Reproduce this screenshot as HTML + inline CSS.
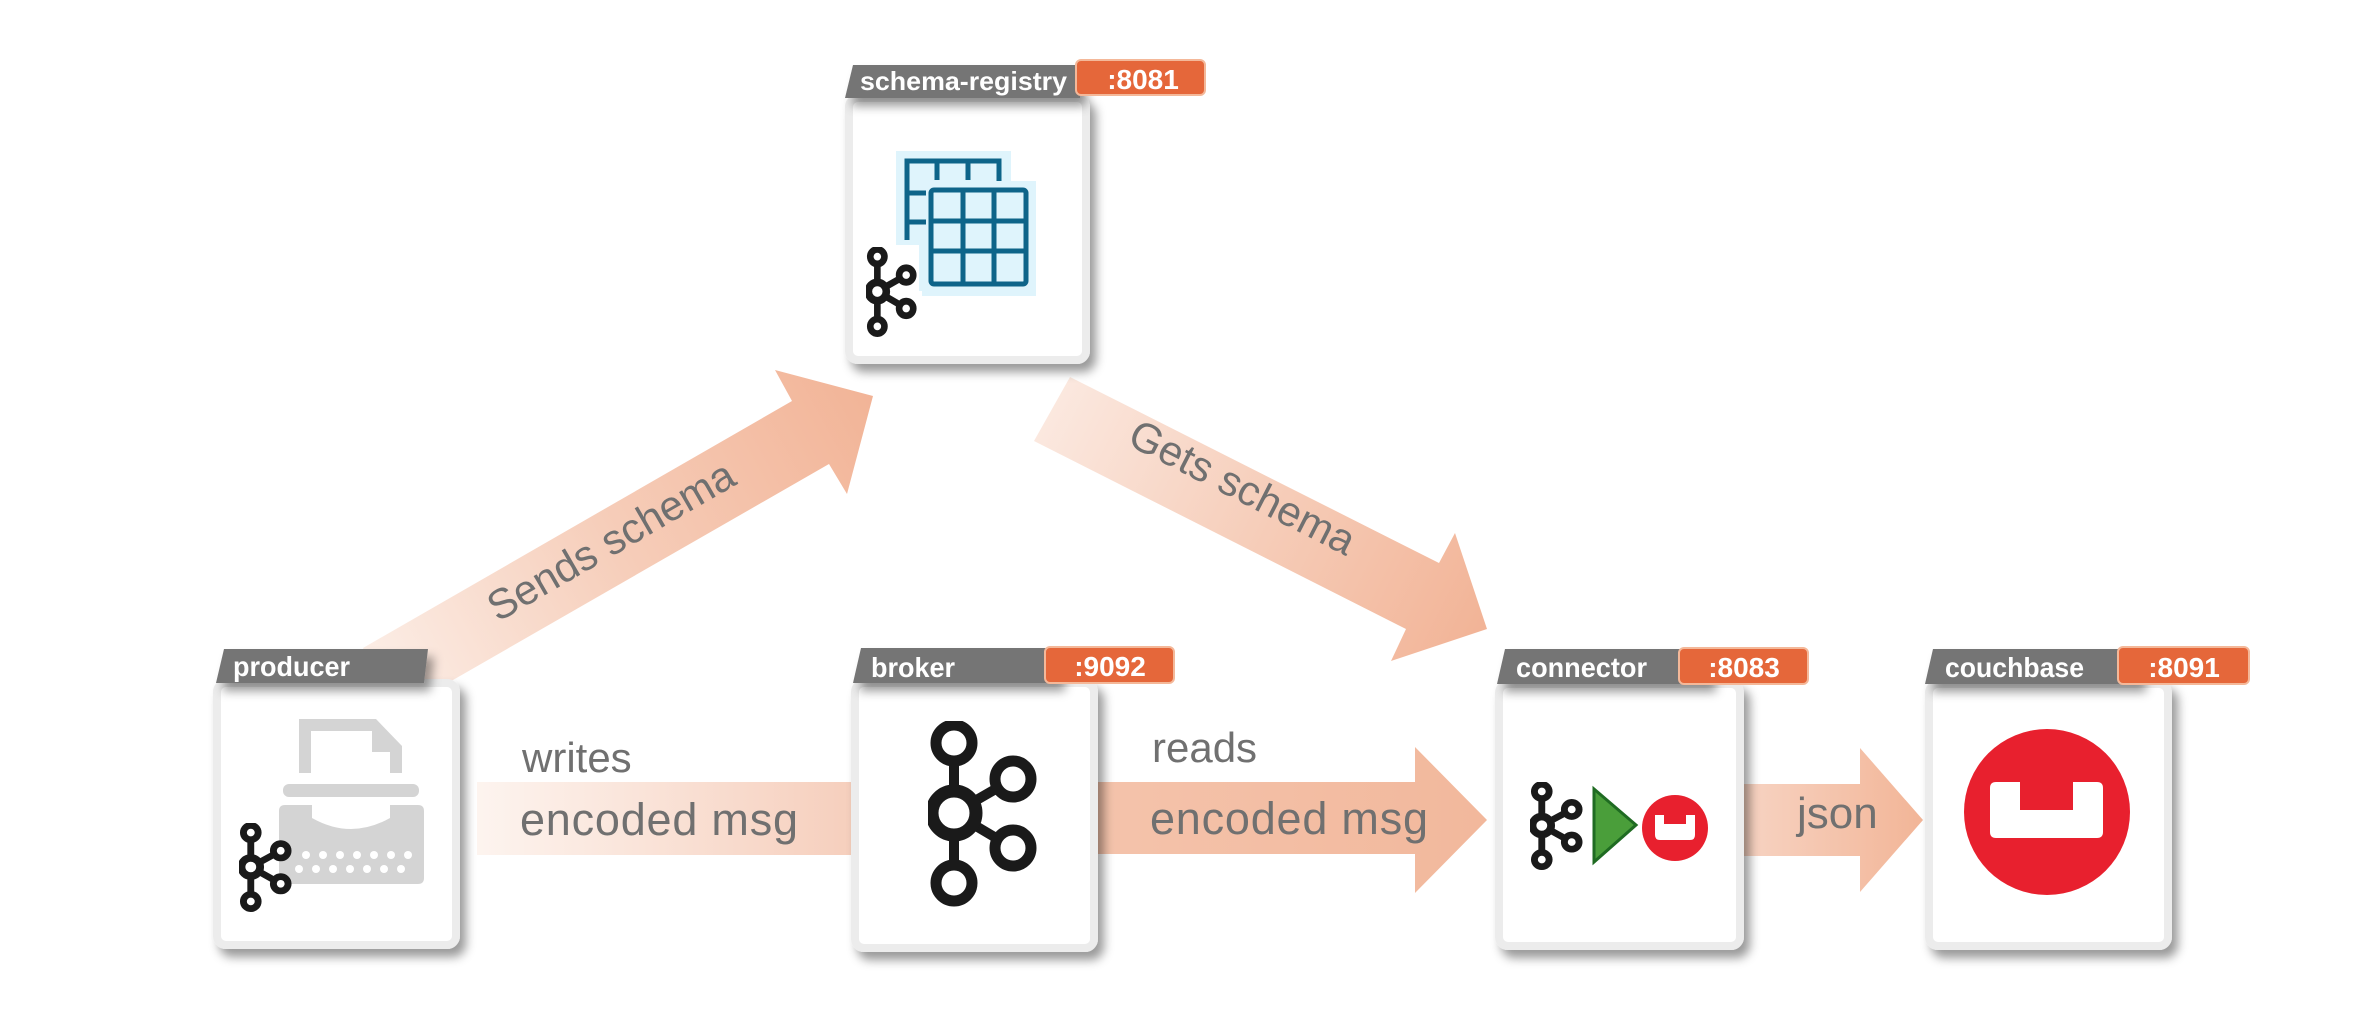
<!DOCTYPE html>
<html><head><meta charset="utf-8"><style>
html,body{margin:0;padding:0;background:#fff;}
svg{display:block;}
.hd{font-family:"Liberation Sans",sans-serif;font-weight:bold;fill:#fff;}
.lb{font-family:"Liberation Sans",sans-serif;fill:#707070;}
</style></head><body>
<svg width="2378" height="1034" viewBox="0 0 2378 1034" xmlns="http://www.w3.org/2000/svg">
<defs>
<filter id="sh" x="-20%" y="-20%" width="140%" height="140%">
<feDropShadow dx="6" dy="8" stdDeviation="5" flood-color="#000" flood-opacity="0.4"/>
</filter>
<linearGradient id="gS" x1="363" y1="680" x2="873" y2="400" gradientUnits="userSpaceOnUse">
<stop offset="0" stop-color="#fcefe8"/><stop offset="0.5" stop-color="#f6cdb9"/><stop offset="1" stop-color="#f2b497"/></linearGradient>
<linearGradient id="gG" x1="1050" y1="410" x2="1480" y2="630" gradientUnits="userSpaceOnUse">
<stop offset="0" stop-color="#fbe8df"/><stop offset="0.5" stop-color="#f6cdb9"/><stop offset="1" stop-color="#f2b497"/></linearGradient>
<linearGradient id="gW" x1="477" y1="0" x2="851" y2="0" gradientUnits="userSpaceOnUse">
<stop offset="0" stop-color="#fdf4ef"/><stop offset="1" stop-color="#f6cfbd"/></linearGradient>
<linearGradient id="gR" x1="1098" y1="0" x2="1487" y2="0" gradientUnits="userSpaceOnUse">
<stop offset="0" stop-color="#f4c3ab"/><stop offset="1" stop-color="#f2b89c"/></linearGradient>
<linearGradient id="gJ" x1="1744" y1="0" x2="1923" y2="0" gradientUnits="userSpaceOnUse">
<stop offset="0" stop-color="#f7d3c2"/><stop offset="1" stop-color="#f2b597"/></linearGradient>
<symbol id="kf" viewBox="0 0 110 186" preserveAspectRatio="none">
<g fill="none" stroke="#1a1a1a" stroke-width="10">
<line x1="26" y1="22" x2="26" y2="162"/>
<line x1="26" y1="92" x2="85" y2="58"/>
<line x1="26" y1="92" x2="85" y2="127"/>
</g>
<g fill="#fff" stroke="#1a1a1a">
<circle cx="26" cy="22" r="18" stroke-width="11"/>
<circle cx="26" cy="162" r="18" stroke-width="11"/>
<circle cx="85" cy="58" r="18" stroke-width="11"/>
<circle cx="85" cy="127" r="18" stroke-width="11"/>
<circle cx="26" cy="92" r="22" stroke-width="13"/>
</g>
</symbol>
<symbol id="kfs" viewBox="0 0 110 186" preserveAspectRatio="none">
<g fill="none" stroke="#1a1a1a" stroke-width="14">
<line x1="24" y1="22" x2="24" y2="162"/>
<line x1="24" y1="92" x2="85" y2="58"/>
<line x1="24" y1="92" x2="85" y2="127"/>
</g>
<g fill="#fff" stroke="#1a1a1a" stroke-width="14">
<circle cx="24" cy="20" r="15"/>
<circle cx="24" cy="164" r="15"/>
<circle cx="85" cy="58" r="15"/>
<circle cx="85" cy="127" r="15"/>
<circle cx="24" cy="92" r="19" stroke-width="16"/>
</g>
</symbol>
</defs>

<polygon points="363,648 792,401 775,370 873,396 847,494 829,464 399,711" fill="url(#gS)"/>
<polygon points="1070,377 1439,563 1455,533 1487,629 1391,661 1406,629 1034,441" fill="url(#gG)"/>
<rect x="477" y="782" width="380" height="73" fill="url(#gW)"/>
<polygon points="1090,782 1415,782 1415,747 1487,820 1415,893 1415,854 1090,854" fill="url(#gR)"/>
<polygon points="1740,784 1860,784 1860,748 1923,820 1860,892 1860,856 1740,856" fill="url(#gJ)"/>

<text class="lb" font-size="42" transform="translate(618,553) rotate(-30)" text-anchor="middle">Sends schema</text>
<text class="lb" font-size="42" transform="translate(1236,500) rotate(27)" text-anchor="middle">Gets schema</text>
<text class="lb" font-size="42" x="522" y="772">writes</text>
<text class="lb" font-size="45" x="520" y="835" textLength="278">encoded msg</text>
<text class="lb" font-size="42" x="1152" y="762">reads</text>
<text class="lb" font-size="45" x="1150" y="834" textLength="278">encoded msg</text>
<text class="lb" font-size="44" x="1797" y="828">json</text>

<g filter="url(#sh)">
<rect x="849" y="98" width="237" height="262" rx="9" fill="#fff" stroke="#ececec" stroke-width="8"/>
<rect x="217" y="683" width="239" height="262" rx="9" fill="#fff" stroke="#ececec" stroke-width="8"/>
<rect x="855" y="683" width="239" height="265" rx="9" fill="#fff" stroke="#ececec" stroke-width="8"/>
<rect x="1499" y="684" width="241" height="262" rx="9" fill="#fff" stroke="#ececec" stroke-width="8"/>
<rect x="1929" y="684" width="239" height="262" rx="9" fill="#fff" stroke="#ececec" stroke-width="8"/>
</g>
<g filter="url(#sh)" fill="#757575">
<polygon points="853,65 1080,65 1080,98 845,98"/>
<polygon points="224,649 428,649 424,683 216,683"/>
<polygon points="861,648 1059,648 1059,683 853,683"/>
<polygon points="1505,649 1710,649 1710,684 1497,684"/>
<polygon points="1933,649 2140,649 2140,684 1925,684"/>
</g>
<text class="hd" font-size="26" x="860" y="90" textLength="207" lengthAdjust="spacingAndGlyphs">schema-registry</text>
<text class="hd" font-size="28" x="233" y="676" textLength="117" lengthAdjust="spacingAndGlyphs">producer</text>
<text class="hd" font-size="28" x="871" y="677" textLength="84" lengthAdjust="spacingAndGlyphs">broker</text>
<text class="hd" font-size="28" x="1516" y="677" textLength="131" lengthAdjust="spacingAndGlyphs">connector</text>
<text class="hd" font-size="28" x="1945" y="677" textLength="139" lengthAdjust="spacingAndGlyphs">couchbase</text>
<g fill="#e5673a" stroke="#f4b899" stroke-width="2">
<rect x="1076" y="60" width="129" height="35" rx="5"/>
<rect x="1045" y="647" width="129" height="36" rx="5"/>
<rect x="1679" y="648" width="129" height="36" rx="5"/>
<rect x="2118" y="647" width="131" height="37" rx="5"/>
</g>
<g class="hd" font-size="28" text-anchor="middle">
<text x="1143" y="89">:8081</text>
<text x="1110" y="676">:9092</text>
<text x="1744" y="677">:8083</text>
<text x="2184" y="677">:8091</text>
</g>

<rect x="896" y="151" width="115" height="140" fill="#dff4fc"/>
<rect x="922" y="181" width="114" height="115" fill="#dff4fc"/>
<g fill="none" stroke="#0e6489" stroke-width="5">
<path d="M907,240 V161 H999 V181"/>
<line x1="937" y1="161" x2="937" y2="180"/>
<line x1="968" y1="161" x2="968" y2="180"/>
<line x1="907" y1="193" x2="926" y2="193"/>
<line x1="907" y1="222" x2="926" y2="222"/>
<rect x="931" y="190" width="95" height="94" rx="3"/>
<line x1="963" y1="190" x2="963" y2="284"/>
<line x1="994" y1="190" x2="994" y2="284"/>
<line x1="931" y1="221" x2="1026" y2="221"/>
<line x1="931" y1="251" x2="1026" y2="251"/>
</g>
<rect x="860" y="245" width="59" height="95" fill="#fff"/>
<use href="#kfs" x="866" y="247" width="52" height="90"/>

<g fill="#d4d4d4">
<path d="M299,719 H376 L402,746 V773 H390 V752 H372 V731 H311 V773 H299 Z"/>
<rect x="283" y="784" width="136" height="13" rx="6"/>
<path d="M285,805 H418 Q424,805 424,811 V878 Q424,884 418,884 H285 Q279,884 279,878 V811 Q279,805 285,805 Z M312,805 V818 Q351,840 390,818 V805 Z" fill-rule="evenodd"/>
</g>
<g fill="#fff">
<circle cx="306" cy="855" r="4"/><circle cx="323" cy="855" r="4"/><circle cx="340" cy="855" r="4"/><circle cx="357" cy="855" r="4"/><circle cx="374" cy="855" r="4"/><circle cx="391" cy="855" r="4"/><circle cx="408" cy="855" r="4"/>
<circle cx="299" cy="869" r="4"/><circle cx="316" cy="869" r="4"/><circle cx="333" cy="869" r="4"/><circle cx="350" cy="869" r="4"/><circle cx="367" cy="869" r="4"/><circle cx="384" cy="869" r="4"/><circle cx="401" cy="869" r="4"/>
</g>
<use href="#kfs" x="239" y="823" width="54" height="89"/>

<use href="#kf" x="928" y="721" width="110" height="186"/>

<use href="#kfs" x="1530" y="782" width="54" height="88"/>
<polygon points="1594,789 1636,825 1594,862" fill="#4a9e3a" stroke="#1f6b22" stroke-width="3"/>
<circle cx="1675" cy="828" r="33" fill="#e8202e"/>
<path d="M1655,815 h9 v9 h22 v-9 h9 v20 q0,5 -5,5 h-30 q-5,0 -5,-5 z" fill="#fff"/>

<circle cx="2047" cy="812" r="83" fill="#e8202e"/>
<path d="M1996,782 h24 v28 h53 v-28 h24 q6,0 6,6 v44 q0,6 -6,6 h-101 q-6,0 -6,-6 v-44 q0,-6 6,-6 z" fill="#fff"/>
</svg>
</body></html>
